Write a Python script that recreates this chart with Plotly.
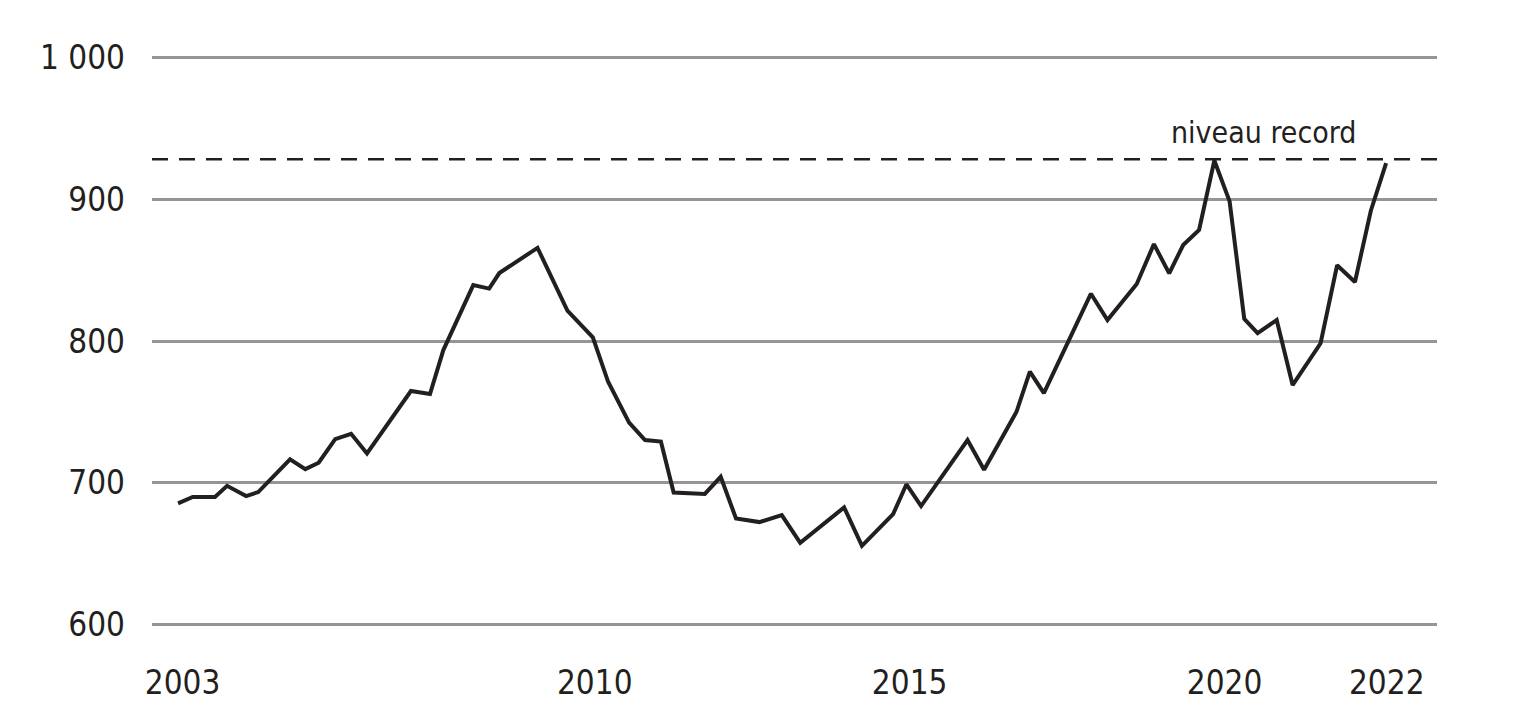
import plotly.graph_objects as go

# decimal-year positions of each observation and the plotted values
dates = [2003.00, 2003.23, 2003.58, 2003.77, 2004.07, 2004.26, 2004.76, 2005.00, 2005.21, 2005.47,
         2005.72, 2005.97, 2006.66, 2006.96, 2007.17, 2007.64, 2007.89, 2008.05, 2008.65, 2009.12,
         2009.52, 2009.76, 2010.09, 2010.34, 2010.59, 2010.79, 2011.28, 2011.53, 2011.77, 2012.14,
         2012.49, 2012.78, 2013.47, 2013.75, 2014.24, 2014.45, 2014.68, 2015.41, 2015.67, 2016.18,
         2016.39, 2016.61, 2017.35, 2017.61, 2018.07, 2018.34, 2018.58, 2018.80, 2019.05, 2019.29,
         2019.53, 2019.76, 2019.97, 2020.27, 2020.52, 2020.96, 2021.22, 2021.50, 2021.75, 2021.99]
values = [685.3, 689.8, 689.8, 697.7, 690.5, 693.3, 716.4, 709.5, 714.0, 730.7,
          734.5, 720.6, 764.7, 762.5, 793.6, 839.5, 837.0, 848.0, 865.8, 821.4,
          802.6, 771.2, 742.3, 730.0, 729.0, 693.0, 692.0, 704.1, 674.7, 672.1,
          677.0, 657.5, 682.5, 655.3, 677.7, 698.8, 683.4, 730.0, 709.0, 750.0,
          778.3, 763.2, 833.4, 814.8, 840.3, 868.4, 847.8, 867.8, 878.4, 927.5,
          898.6, 815.7, 805.6, 814.8, 768.9, 798.4, 853.5, 841.7, 892.0, 925.6]

record_level = 928.4
record_label = "niveau record"
record_label_x = 2020.07

x_tick_vals = [2003.07, 2009.55, 2014.50, 2019.45, 2022.00]
x_tick_text = ["2003", "2010", "2015", "2020", "2022"]
y_tick_vals = [600, 700, 800, 900, 1000]
y_tick_text = ["600", "700", "800", "900", "1 000"]

FONT = "DejaVu Sans Condensed, DejaVu Sans, sans-serif"
TXT = "#231f20"

fig = go.Figure()
fig.add_trace(go.Scatter(
    x=dates, y=values, mode="lines",
    line=dict(color="#231f20", width=4),
    hoverinfo="skip", showlegend=False,
))

fig.add_shape(type="line", xref="paper", yref="y", x0=0, x1=1,
              y0=record_level, y1=record_level,
              line=dict(color="#231f20", width=2.6, dash="16px,11px"))

fig.add_annotation(x=record_label_x, y=record_level, xref="x", yref="y",
                   text=record_label, showarrow=False,
                   xanchor="center", yanchor="bottom", yshift=7,
                   font=dict(family=FONT, size=30, color=TXT))

fig.update_layout(
    width=1520, height=712,
    margin=dict(l=144, r=91, t=47, b=93),
    paper_bgcolor="white", plot_bgcolor="white",
    font=dict(family=FONT, size=33, color=TXT),
    xaxis=dict(range=[2002.59, 2022.79], tickmode="array",
               tickvals=x_tick_vals, ticktext=x_tick_text,
               showgrid=False, zeroline=False, showline=False,
               ticks="", ticklabelstandoff=33,
               tickfont=dict(family=FONT, size=33, color=TXT)),
    yaxis=dict(range=[598, 1002], tickmode="array",
               tickvals=y_tick_vals, ticktext=y_tick_text,
               showgrid=True, gridcolor="#959595", gridwidth=2.6,
               zeroline=False, showline=False, ticks="",
               ticklabelstandoff=26,
               tickfont=dict(family=FONT, size=33, color=TXT)),
)

fig.write_html("out.html")
